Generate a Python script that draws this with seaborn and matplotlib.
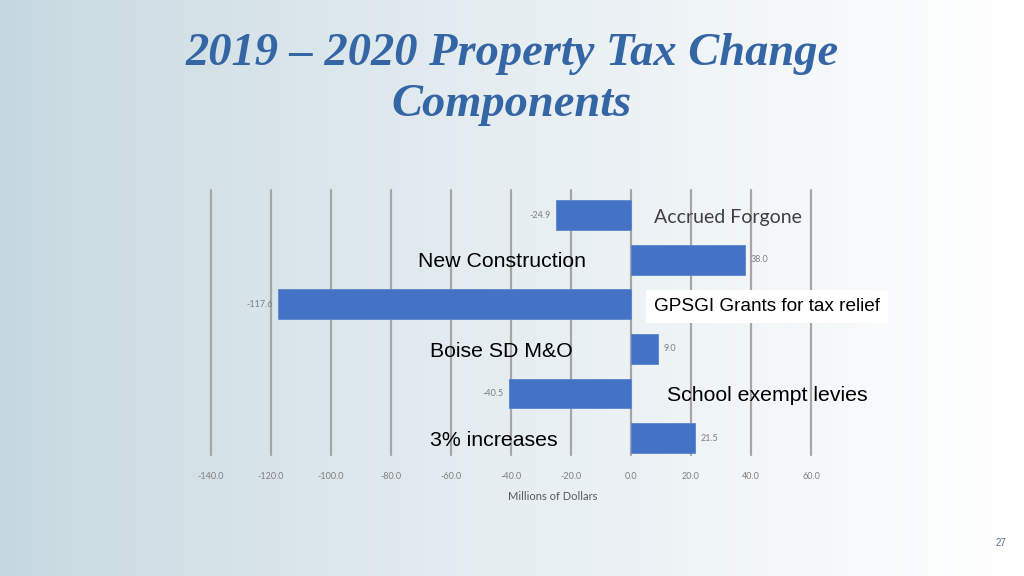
"""Property tax change components, 2019-2020: horizontal bar slide."""

import matplotlib

matplotlib.use("Agg")

import matplotlib.pyplot as plt
import numpy as np
import seaborn as sns
from matplotlib.colors import LinearSegmentedColormap

# --------------------------------------------------------------------------- #
# data
# --------------------------------------------------------------------------- #
components = ["Accrued Forgone", "New Construction", "GPSGI Grants for tax relief",
              "Boise SD M&O", "School exempt levies", "3% increases"]
values = [-24.9, 38.0, -117.6, 9.0, -40.5, 21.5]
x_ticks = [-140, -120, -100, -80, -60, -40, -20, 0, 20, 40, 60]

# where each category caption sits (x in data units, left edge of text)
label_x = [7.7, -71.0, 7.7, -67.0, 12.0, -67.0]

BAR = "#4472C4"
GRID = "#a6a6a6"
TICK = "#7f7f7f"
TITLE = "#3465a4"

sns.set_style("white")
plt.rcParams["font.family"] = ["Lato", "DejaVu Sans"]

fig = plt.figure(figsize=(10.24, 5.76), dpi=100)

# slide background: light blue-grey fading to white on the right
bg = fig.add_axes([0, 0, 1, 1], zorder=-2)
ramp = np.linspace(0, 1, 256) ** 0.8
cmap = LinearSegmentedColormap.from_list("slide", ["#c4d7df", "#ffffff"])
bg.imshow(ramp[None, :], aspect="auto", cmap=cmap, extent=[0, 1, 0, 1])
bg.axis("off")

ax = fig.add_axes([0.206, 0.210, 0.586, 0.460])
ax.patch.set_alpha(0)
sns.barplot(x=values, y=components, orient="h", color=BAR, saturation=1,
            width=0.67, ax=ax, zorder=3, edgecolor="#5a84cc", linewidth=0.6)
ax.bar_label(ax.containers[0], fmt="%.1f", padding=4, fontsize=6.5,
             color=TICK, family=["Lato", "DejaVu Sans"])

ax.set_xlim(-140, 60)
ax.set_ylim(5.38, -0.56)
ax.set_xticks(x_ticks)
ax.set_xticklabels([f"{t:.1f}" for t in x_ticks], fontsize=6.5, color=TICK)
ax.tick_params(axis="x", length=0, pad=12)
ax.set_yticks([])
ax.set_ylabel("")
ax.grid(axis="x", color=GRID, lw=1.6)
for gl in ax.get_xgridlines():
    gl.set_clip_on(False)
ax.set_axisbelow(True)
sns.despine(ax=ax, left=True, bottom=True)

ax.set_xlabel("Millions of Dollars", fontsize=8, color="#595959")
ax.xaxis.set_label_coords(0.57, -0.135)

# category captions (sit a touch below the bar centre, as on the slide)
for i, (name, lx) in enumerate(zip(components, label_x)):
    y = i + 0.05
    if i == 0:
        ax.text(lx, y, name, va="center", ha="left", fontsize=14,
                color="#404040", family=["Lato", "DejaVu Sans"], zorder=5)
    elif i == 2:
        ax.text(lx, y, name, va="center", ha="left", fontsize=13.7,
                color="black", family=["Liberation Sans", "DejaVu Sans"], zorder=5,
                bbox=dict(boxstyle="square,pad=0.4", fc="white", ec="none"))
    else:
        ax.text(lx, y, name, va="center", ha="left", fontsize=15.3,
                color="black", family=["Liberation Sans", "DejaVu Sans"], zorder=5)

fig.text(0.5, 0.862, "2019 – 2020 Property Tax Change\nComponents",
         ha="center", va="center", fontsize=33.5, color=TITLE,
         family=["Liberation Serif", "DejaVu Serif"], weight="bold",
         style="italic", linespacing=1.27)

fig.text(0.977, 0.057, "27", ha="center", va="center", fontsize=7,
         color="#5a6f8c", family=["Liberation Sans", "DejaVu Sans"])

fig.savefig("out.png", dpi=100)
plt.close(fig)
